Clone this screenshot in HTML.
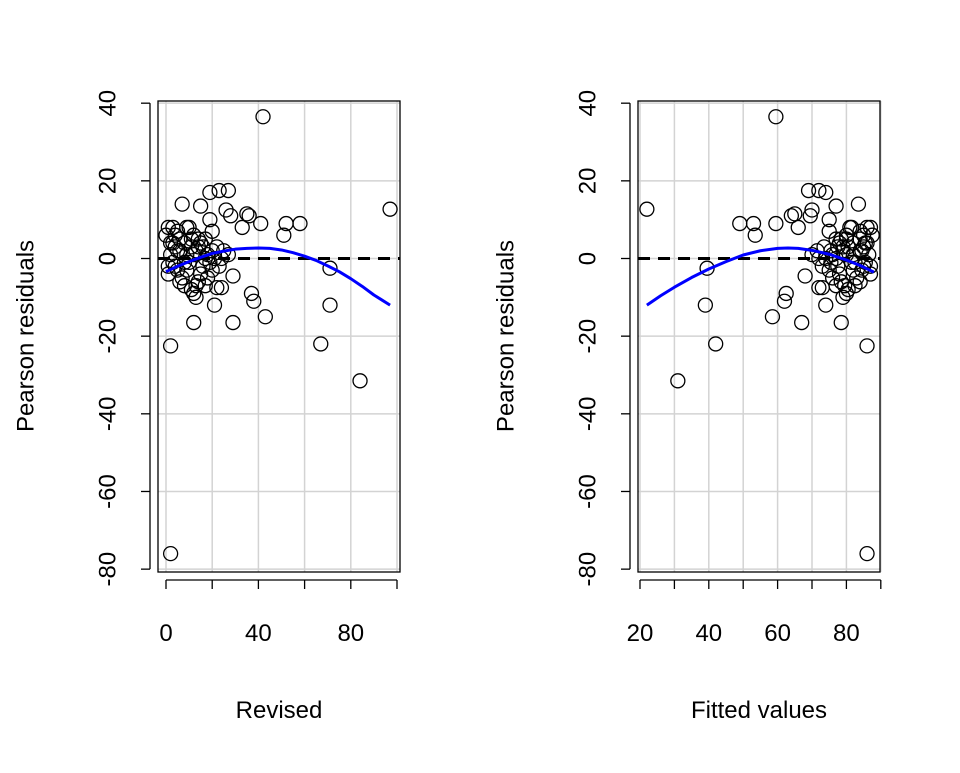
<!DOCTYPE html>
<html><head><meta charset="utf-8"><style>
body{margin:0;background:#fff}
svg text{font-family:"Liberation Sans",Arial,sans-serif;fill:#000}
</style></head><body>
<svg id="c" width="960" height="768"></svg>
<script>
const revised=[97,42,84,67,71,71,58,52,51,43,38,37,41,36,35,33,27,23,19,26,28,15,7,29,12,2,2,21,29,22,24,19,20,0,1,3,4,5,6,8,9,10,11,12,13,14,15,16,17,18,20,22,24,25,27,1,1,2,3,4,5,6,7,8,9,10,11,12,13,14,15,16,17,18,19,20,21,23,3,6,9,12,14,17,11,5,8,13,2,4];
const residuals=[12.7,36.5,-31.5,-22,-12,-2.5,9,9,6,-15,-11,-9,9,11,11.5,8,17.5,17.5,17,12.5,11,13.5,14,-16.5,-16.5,-22.5,-76,-12,-4.5,-7.5,-7.5,10,7,6,8,8,6,7,5,4,8,8,3,6,2,5,4,3,5,1,2,3,0,2,1,-2,-4,1,-1,3,-3,2,-5,-7,-3,-1,-8,-9,-10,-6,-4,-2,-7,-5,-1,-3,0,-2,4,-6,1,1,3,0,5,2,-1,-7,4,-2];
const fitted=[22,59.5,31,42,39,39.5,49,53,53.5,58.5,62,62.5,59.5,64,65,66,69,72,74,70,69.5,77,83.5,67,78.5,86,86,74,68,73,72,75,75,87.5,87,86,85,84,84,82,81.5,81,80.5,80,79,78.5,78,77.5,77,76,75.5,73.5,72,71.5,70,87,87,86.5,85.5,85,84.5,84,83,82.5,82,81.5,80.5,80,79,78.5,78,77.5,77,76,75.5,75,74,73,85.5,84,82,80,79,77,80,84.5,82.5,79.5,86,85];
const smoothRevX=[0,5,10,15,20,25,30,35,40,45,50,55,60,65,70,75,80,85,90,97];
const smoothRevY=[-3.4,-2.0,-0.8,0.3,1.3,1.9,2.4,2.6,2.7,2.6,2.2,1.5,0.6,-0.5,-1.9,-3.4,-5.2,-7.2,-9.4,-12];
const smoothFitX=[22,26,30,35,40,45,50,55,60,63,66,70,75,80,84,88];
const smoothFitY=[-12,-9.6,-7.4,-4.9,-2.7,-0.8,0.9,2.0,2.6,2.7,2.6,2.1,1.1,-0.4,-1.8,-3.5];
const yTicks=[-80,-60,-40,-20,0,20,40];
const revTicks=[0,20,40,60,80,100], revLabels=[0,40,80];
const fitTicks=[20,30,40,50,60,70,80,90], fitLabels=[20,40,60,80];

const svg=document.getElementById('c');
const NS='http://www.w3.org/2000/svg';
function el(t,a,p){const e=document.createElementNS(NS,t);for(const k in a)e.setAttribute(k,a[k]);(p||svg).appendChild(e);return e;}
const Y=v=>258.5-v*3.883;

function panel(name,left,X,xs,ys,sx,sy,ticks,labels,gridX,xmin,xmax,title){
  const g=el('g',{});
  
  
  gridX.forEach(v=>{const l=el('line',{x1:X(v),x2:X(v),y1:101,y2:572,stroke:'#d3d3d3','stroke-width':1.5},g);
    });
  yTicks.forEach(v=>{const l=el('line',{x1:left,x2:left+242,y1:Y(v),y2:Y(v),stroke:'#d3d3d3','stroke-width':1.5},g);
    });
  const z=el('line',{x1:left,x2:left+242,y1:Y(0),y2:Y(0),stroke:'#000','stroke-width':3,'stroke-dasharray':'12,8'},g);
  
  xs.forEach((v,i)=>{const c=el('circle',{cx:X(v),cy:Y(ys[i]),r:7,fill:'none',stroke:'#000','stroke-width':1.3},g);
    });
  const p=el('polyline',{points:sx.map((v,i)=>X(v)+','+Y(sy[i])).join(' '),fill:'none',stroke:'#0000ff','stroke-width':3,'stroke-linejoin':'round'},g);
  
  const b=el('rect',{x:left,y:101,width:242,height:471,fill:'none',stroke:'#000','stroke-width':1.3},g);
  
  const ax=left-8;
  el('line',{x1:ax,x2:ax,y1:Y(40),y2:Y(-80),stroke:'#000','stroke-width':1.3},g);
  yTicks.forEach(v=>{el('line',{x1:ax,x2:ax-9,y1:Y(v),y2:Y(v),stroke:'#000','stroke-width':1.3},g);
    const tx=ax-42;
    const t=el('text',{x:tx,y:Y(v),'font-size':24,'text-anchor':'middle','dominant-baseline':'central',transform:`rotate(-90 ${tx} ${Y(v)})`},g);t.textContent=v;
    });
  el('line',{x1:X(xmin),x2:X(xmax),y1:580,y2:580,stroke:'#000','stroke-width':1.3},g);
  ticks.forEach(v=>el('line',{x1:X(v),x2:X(v),y1:580,y2:589,stroke:'#000','stroke-width':1.3},g));
  labels.forEach(v=>{const t=el('text',{x:X(v),y:641,'font-size':24,'text-anchor':'middle'},g);t.textContent=v;
    });
  const xt=el('text',{x:left+121,y:718,'font-size':24,'text-anchor':'middle'},g);xt.textContent=title;
  
  const yx=left-132;
  const yt=el('text',{x:yx,y:336,'font-size':24,'text-anchor':'middle','dominant-baseline':'central',transform:`rotate(-90 ${yx} 336)`},g);yt.textContent='Pearson residuals';
  
}
const XL=v=>166+v*2.31;
const XR=v=>640+(v-20)*3.44;
panel('revised',158,XL,revised,residuals,smoothRevX,smoothRevY,revTicks,revLabels,revTicks,0,100,'Revised');
panel('fitted',638,XR,fitted,residuals,smoothFitX,smoothFitY,fitTicks,fitLabels,[20,30,40,50,60,70,80,90],20,90,'Fitted values');
</script>
</body></html>
